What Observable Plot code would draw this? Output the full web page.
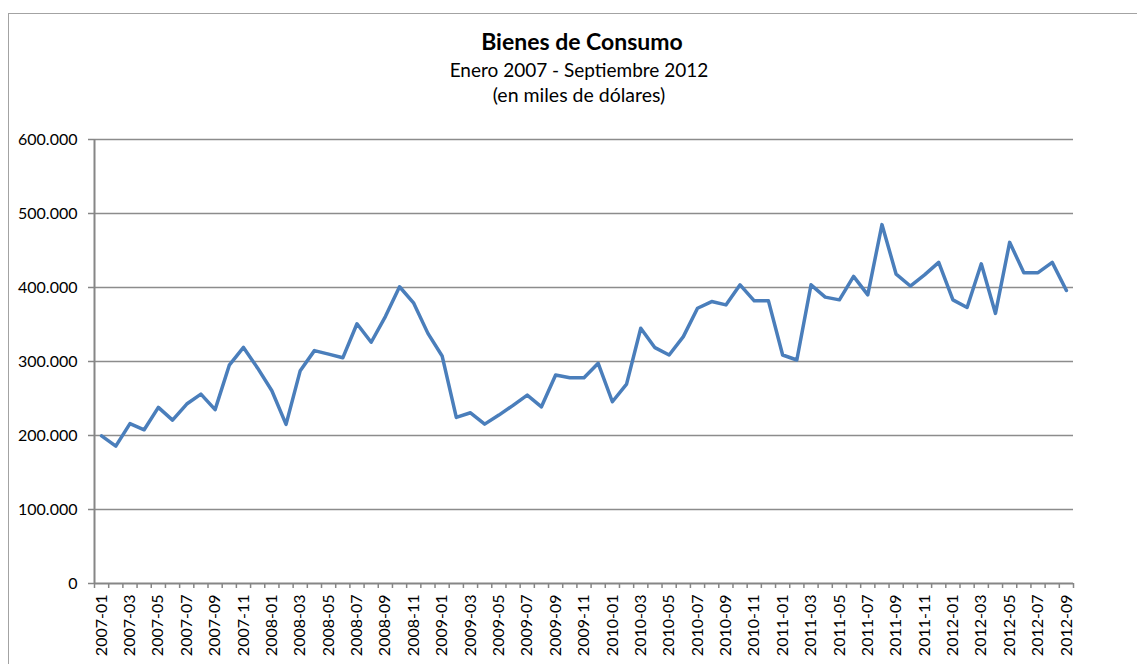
<!DOCTYPE html>
<html>
<head>
<meta charset="utf-8">
<script src="https://cdn.jsdelivr.net/npm/d3@7"></script>
<script src="https://cdn.jsdelivr.net/npm/@observablehq/plot@0.6"></script>
<style>
  html, body { margin: 0; padding: 0; background: #ffffff; }
  #wrap { position: relative; width: 1137px; height: 664px; overflow: hidden; font-family: Lato, "Open Sans", sans-serif; }
  #frame { position: absolute; left: 8px; top: 13px; width: 1300px; height: 800px; border-left: 1.5px solid #a3a3a3; border-top: 1.5px solid #a3a3a3; }
  #chart { position: absolute; left: 0; top: 0; }
  .t { position: absolute; left: 379px; width: 400px; text-align: center; color: #000; white-space: nowrap; line-height: 1.2; }
  #title { top: 28px; font-size: 23px; font-weight: bold; left: 382px; }
  #sub1 { top: 59px; font-size: 19px; }
  #sub2 { top: 83px; font-size: 19.5px; }
</style>
</head>
<body>
<div id="wrap">
  <div id="frame"></div>
  <div id="chart"></div>
  <div class="t" id="title">Bienes de Consumo</div>
  <div class="t" id="sub1">Enero 2007 - Septiembre 2012</div>
  <div class="t" id="sub2">(en miles de dólares)</div>
</div>
<script>
const months = [
  "2007-01","2007-02","2007-03","2007-04","2007-05","2007-06","2007-07","2007-08","2007-09","2007-10","2007-11","2007-12",
  "2008-01","2008-02","2008-03","2008-04","2008-05","2008-06","2008-07","2008-08","2008-09","2008-10","2008-11","2008-12",
  "2009-01","2009-02","2009-03","2009-04","2009-05","2009-06","2009-07","2009-08","2009-09","2009-10","2009-11","2009-12",
  "2010-01","2010-02","2010-03","2010-04","2010-05","2010-06","2010-07","2010-08","2010-09","2010-10","2010-11","2010-12",
  "2011-01","2011-02","2011-03","2011-04","2011-05","2011-06","2011-07","2011-08","2011-09","2011-10","2011-11","2011-12",
  "2012-01","2012-02","2012-03","2012-04","2012-05","2012-06","2012-07","2012-08","2012-09"
];

const values = [
  199500,185600,216000,207700,238000,220800,242500,256000,235000,295000,319000,291000,
  260500,215000,287600,314700,310000,305000,351000,326000,360700,401000,378800,338000,
  307500,224400,230700,215400,227600,240700,254600,238800,281700,278000,278000,297600,
  245600,269500,345000,318700,308800,333600,372000,381000,376500,403600,382000,382000,
  308800,302000,403600,387000,383300,415000,390000,485000,418000,402000,417000,434000,
  383300,373000,432000,365000,461000,420000,420000,434000,396000
];

const yTicks = [0, 100000, 200000, 300000, 400000, 500000, 600000];

const data = months.map((m, i) => ({ i, m, v: values[i] }));
const boundaries = d3.range(months.length + 1).map(i => i - 0.5);
const labelIdx = d3.range(0, months.length, 2);
const fmtY = d => d === 0 ? "0" : d3.format(",")(d).replace(/,/g, ".");
const axisGray = "#868686";

const chart = Plot.plot({
  width: 1137,
  height: 664,
  marginLeft: 94,
  marginRight: 64,
  marginTop: 139,
  marginBottom: 81,
  style: { fontFamily: "Lato, 'Open Sans', sans-serif", fontSize: "16px", color: "#000", background: "transparent", overflow: "visible" },
  x: { type: "linear", domain: [-0.5, months.length - 0.5], axis: null },
  y: { domain: [0, 600000], axis: null },
  marks: [
    Plot.ruleY(yTicks.filter(d => d > 0), { stroke: "#8c8c8c", strokeWidth: 1.3 }),
    Plot.axisY({ ticks: yTicks, tickSize: 6, tickPadding: 11, tickFormat: fmtY, stroke: axisGray, strokeWidth: 1.5, fill: "#000", fontSize: 16, label: null }),
    Plot.axisX({ ticks: boundaries, tickSize: 5, tickFormat: () => "", stroke: axisGray, strokeWidth: 1.5, label: null }),
    Plot.axisX({ ticks: labelIdx, tickSize: 0, tickPadding: 11, tickRotate: -90, tickFormat: i => months[i], fill: "#000", fontSize: 16, label: null }),
    Plot.ruleX([-0.5], { stroke: axisGray, strokeWidth: 2 }),
    Plot.ruleY([0], { stroke: axisGray, strokeWidth: 2 }),
    Plot.line(data, { x: "i", y: "v", stroke: "#4a7ebb", strokeWidth: 3.5, strokeLinejoin: "round", strokeLinecap: "round" })
  ]
});
document.getElementById("chart").appendChild(chart);
</script>
</body>
</html>
